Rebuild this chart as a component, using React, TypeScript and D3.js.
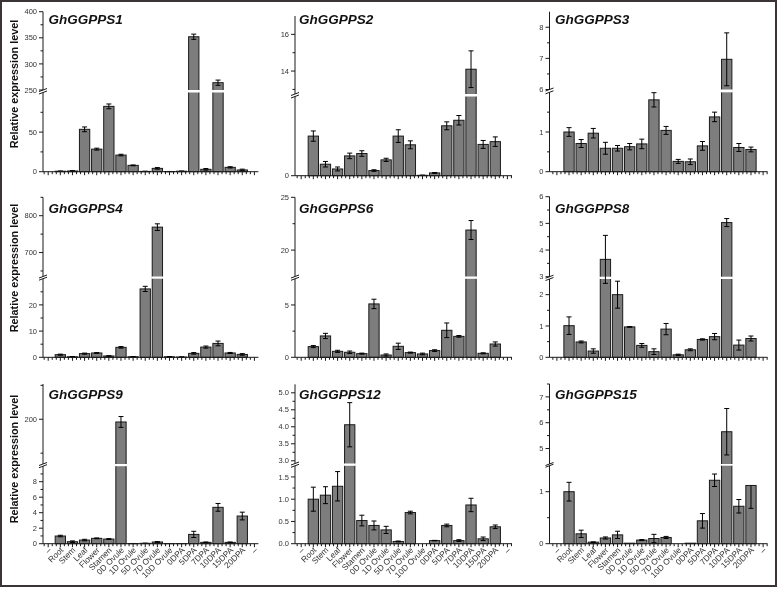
import React from 'react';
import * as d3 from 'd3';

// ---------- data ----------
const categories = ['Root', 'Stem', 'Leaf', 'Flower', 'Stamen', '0D Ovule', '1D Ovule', '5D Ovule', '7D Ovule', '10D Ovule', '0DPA', '5DPA', '7DPA', '10DPA', '15DPA', '20DPA'];
const xLabels = ['–', ...categories, '–'];

const gg1Values = [0.6, 0.9, 53.5, 28.5, 82.5, 21, 8, 0.4, 4.2, 0.2, 0.6, 352, 3, 264, 5.5, 2.2];
const gg1Errors = [0.3, 0.4, 3, 1.2, 3, 1, 0.5, 0.2, 1, 0.1, 0.3, 5, 1, 5, 0.8, 1];
const gg2Values = [1.0, 0.29, 0.17, 0.5, 0.56, 0.13, 0.4, 1.0, 0.78, 0.01, 0.07, 1.26, 1.4, 14.1, 0.79, 0.86];
const gg2Errors = [0.13, 0.07, 0.05, 0.07, 0.07, 0.02, 0.04, 0.16, 0.1, 0.005, 0.01, 0.1, 0.12, 1.0, 0.1, 0.12];
const gg3Values = [1.0, 0.71, 0.97, 0.59, 0.59, 0.63, 0.7, 1.81, 1.04, 0.26, 0.25, 0.65, 1.38, 6.97, 0.61, 0.56];
const gg3Errors = [0.11, 0.1, 0.12, 0.15, 0.07, 0.08, 0.12, 0.18, 0.1, 0.05, 0.07, 0.11, 0.12, 0.85, 0.1, 0.06];
const gg4Values = [1.0, 0.2, 1.4, 1.65, 0.5, 3.8, 0.2, 26.1, 769, 0.2, 0.1, 1.5, 3.9, 5.3, 1.65, 1.1];
const gg4Errors = [0.2, 0.1, 0.2, 0.15, 0.1, 0.3, 0.1, 1.0, 9, 0.1, 0.05, 0.3, 0.4, 0.9, 0.2, 0.3];
const gg6Values = [1.02, 2.04, 0.57, 0.48, 0.35, 5.1, 0.22, 1.05, 0.45, 0.32, 0.64, 2.58, 2.0, 21.9, 0.38, 1.27];
const gg6Errors = [0.1, 0.25, 0.1, 0.12, 0.05, 0.45, 0.1, 0.3, 0.05, 0.08, 0.08, 0.7, 0.08, 0.9, 0.05, 0.2];
const gg8Values = [1.01, 0.49, 0.2, 3.65, 2.0, 0.97, 0.38, 0.18, 0.9, 0.08, 0.24, 0.57, 0.66, 5.03, 0.39, 0.6];
const gg8Errors = [0.28, 0.03, 0.07, 0.9, 0.43, 0.01, 0.06, 0.09, 0.18, 0.02, 0.03, 0.02, 0.1, 0.15, 0.16, 0.08];
const gg9Values = [0.99, 0.26, 0.47, 0.69, 0.6, 196, 0.02, 0.05, 0.22, 0.01, 0.01, 1.2, 0.17, 4.69, 0.17, 3.57];
const gg9Errors = [0.1, 0.1, 0.1, 0.05, 0.05, 8, 0.01, 0.02, 0.05, 0, 0, 0.4, 0.05, 0.5, 0.05, 0.5];
const gg12Values = [1.0, 1.09, 1.29, 4.06, 0.52, 0.41, 0.31, 0.05, 0.7, 0.0, 0.07, 0.41, 0.07, 0.87, 0.11, 0.38];
const gg12Errors = [0.27, 0.19, 0.33, 0.65, 0.12, 0.1, 0.08, 0.01, 0.03, 0, 0.005, 0.03, 0.02, 0.15, 0.04, 0.04];
const gg15Values = [1.0, 0.19, 0.03, 0.11, 0.17, 0.01, 0.07, 0.1, 0.12, 0.0, 0.01, 0.44, 1.22, 5.65, 0.72, 1.12];
const gg15Errors = [0.18, 0.07, 0.005, 0.02, 0.07, 0, 0.01, 0.08, 0.02, 0, 0, 0.14, 0.12, 0.9, 0.13, 0.44];
// error bars drawn only downward (whisker hidden above the bar)
const gg15DownOnly = [15];

// tick values (lower segment / upper segment of each broken axis)
const gg1Ticks = { lo: [0, 50], loMinor: [25, 75], up: [250, 300, 350, 400], upMinor: [275, 325, 375] };
const gg2Ticks = { lo: [0], loMinor: [], up: [14, 16], upMinor: [13, 15] };
const gg3Ticks = { lo: [0, 1], loMinor: [0.5, 1.5], up: [6, 7, 8], upMinor: [6.5, 7.5] };
const gg4Ticks = { lo: [0, 10, 20], loMinor: [5, 15, 25], up: [700, 800], upMinor: [650, 750, 850] };
const gg6Ticks = { lo: [0, 5], loMinor: [2.5], up: [20, 25], upMinor: [22.5] };
const gg8Ticks = { lo: [0, 1, 2], loMinor: [0.5, 1.5], up: [3, 4, 5, 6], upMinor: [3.5, 4.5, 5.5] };
const gg9Ticks = { lo: [0, 2, 4, 6, 8], loMinor: [1, 3, 5, 7, 9], up: [200], upMinor: [150, 250] };
const gg12Ticks = { lo: [0, 0.5, 1.0, 1.5], loMinor: [0.25, 0.75, 1.25], up: [3.0, 3.5, 4.0, 4.5, 5.0], upMinor: [3.25, 3.75, 4.25, 4.75] };
const gg15Ticks = { lo: [0, 1], loMinor: [0.5], up: [5, 6, 7], upMinor: [5.5, 6.5, 7.5] };

// ---------- layout ----------
const FONT = "'Liberation Sans', Arial, Helvetica, sans-serif";
const SP = 12.13;
const COLS = [
  { axisX: 43, first: 48.2, end: 258.4, titleX: 48.5 },
  { axisX: 295, first: 301.2, end: 512, titleX: 299 },
  { axisX: 549.5, first: 556.9, end: 767.5, titleX: 555 },
];
const TITLE_Y = [23.5, 212.5, 399.3];
const YLABEL_Y = [84, 268, 459];

type Seg = { domain: [number, number]; range: [number, number] };
type Cfg = {
  name: string; values: number[]; errors: number[]; ticks: any; col: number; row: number;
  base: number; lower: Seg; upper: Seg; fmt?: (v: number) => string; downOnly?: number[];
};

const panels: Cfg[] = [
  { name: 'GhGGPPS1', values: gg1Values, errors: gg1Errors, ticks: gg1Ticks, col: 0, row: 0, base: 171.7,
    lower: { domain: [0, 100], range: [171.7, 92.5] }, upper: { domain: [250, 400], range: [90, 11.7] } },
  { name: 'GhGGPPS2', values: gg2Values, errors: gg2Errors, ticks: gg2Ticks, col: 1, row: 0, base: 175.7,
    lower: { domain: [0, 2], range: [175.7, 96.5] }, upper: { domain: [12.75, 17], range: [94, 16] } },
  { name: 'GhGGPPS3', values: gg3Values, errors: gg3Errors, ticks: gg3Ticks, col: 2, row: 0, base: 171.7,
    lower: { domain: [0, 2], range: [171.7, 92.3] }, upper: { domain: [6, 8.5], range: [89.5, 11.7] } },
  { name: 'GhGGPPS4', values: gg4Values, errors: gg4Errors, ticks: gg4Ticks, col: 0, row: 1, base: 357.3,
    lower: { domain: [0, 30], range: [357.3, 278.7] }, upper: { domain: [635, 850], range: [276.5, 197.3] } },
  { name: 'GhGGPPS6', values: gg6Values, errors: gg6Errors, ticks: gg6Ticks, col: 1, row: 1, base: 357.3,
    lower: { domain: [0, 7.5], range: [357.3, 278.8] }, upper: { domain: [17.5, 25], range: [276.5, 197.3] } },
  { name: 'GhGGPPS8', values: gg8Values, errors: gg8Errors, ticks: gg8Ticks, col: 2, row: 1, base: 357.3,
    lower: { domain: [0, 2.5], range: [357.3, 279] }, upper: { domain: [3, 6], range: [276.7, 196.7] } },
  { name: 'GhGGPPS9', values: gg9Values, errors: gg9Errors, ticks: gg9Ticks, col: 0, row: 2, base: 543.7,
    lower: { domain: [0, 10], range: [543.7, 466.2] }, upper: { domain: [134, 252], range: [464, 384] } },
  { name: 'GhGGPPS12', values: gg12Values, errors: gg12Errors, ticks: gg12Ticks, col: 1, row: 2, base: 543.7,
    lower: { domain: [0, 1.75], range: [543.7, 465.8] }, upper: { domain: [2.92, 5.25], range: [463.5, 384.3] },
    fmt: (v) => v.toFixed(1) },
  { name: 'GhGGPPS15', values: gg15Values, errors: gg15Errors, ticks: gg15Ticks, col: 2, row: 2, base: 543.7,
    lower: { domain: [0, 1.5], range: [543.7, 465.7] }, upper: { domain: [4.4, 7.5], range: [464, 384] },
    downOnly: gg15DownOnly },
];

function Panel({ cfg }: { cfg: Cfg }) {
  const col = COLS[cfg.col];
  const idx = d3.range(xLabels.length);
  const x = d3.scalePoint<number>().domain(idx).range([col.first, col.first + (xLabels.length - 1) * SP]);
  const lo = d3.scaleLinear().domain(cfg.lower.domain).range(cfg.lower.range);
  const up = d3.scaleLinear().domain(cfg.upper.domain).range(cfg.upper.range);
  const loMax = cfg.lower.domain[1];
  const y = (v: number) => (v <= loMax ? lo(v) : up(v));
  const bw = SP * 0.85;
  const ax = col.axisX;
  const base = cfg.base;
  const loTop = cfg.lower.range[1];
  const upBot = cfg.upper.range[0];
  const top = cfg.upper.range[1];
  const fmt = cfg.fmt || ((v: number) => String(v));
  const downOnly = cfg.downOnly || [];
  const xTicks = d3.range(-1, (xLabels.length - 1) * 3 + 2).map((k) => ({
    px: col.first + (k * SP) / 3,
    major: k % 3 === 0,
  })).filter((t) => t.px >= ax && t.px <= col.end);
  const stroke = '#1a1a1a';

  return (
    <g>
      {cfg.values.map((v, i) => {
        const cx = x(i + 1)!;
        const yt = y(v);
        return (
          <rect key={'b' + i} x={cx - bw / 2} y={yt} width={bw} height={Math.max(0, base - yt)}
            fill="#7d7d7d" stroke={stroke} strokeWidth={1} />
        );
      })}
      {cfg.values.map((v, i) => v > loMax ? (
        <rect key={'g' + i} x={x(i + 1)! - bw / 2 - 1} y={upBot} width={bw + 2} height={loTop - upBot} fill="#fff" />
      ) : null)}
      {cfg.values.map((v, i) => {
        const e = cfg.errors[i];
        if (!e) return null;
        const cx = x(i + 1)!;
        const down = downOnly.includes(i);
        const y1 = down ? y(v) : y(v + e);
        const y0 = y(Math.max(0, v - e));
        return (
          <g key={'e' + i} stroke="#000" strokeWidth={1}>
            <line x1={cx} x2={cx} y1={y1} y2={y0} />
            {!down && <line x1={cx - 2.5} x2={cx + 2.5} y1={y1} y2={y1} />}
            <line x1={cx - 2.5} x2={cx + 2.5} y1={y0} y2={y0} />
          </g>
        );
      })}
      <g stroke={stroke} strokeWidth={1}>
        <line x1={ax} x2={ax} y1={base} y2={loTop} />
        <line x1={ax} x2={ax} y1={upBot} y2={top} />
        <line x1={ax - 4} x2={ax + 4} y1={loTop + 1.5} y2={loTop - 1.5} />
        <line x1={ax - 4} x2={ax + 4} y1={upBot + 1.5} y2={upBot - 1.5} />
        {cfg.ticks.lo.map((t: number) => <line key={'lt' + t} x1={ax - 4} x2={ax} y1={lo(t)} y2={lo(t)} />)}
        {cfg.ticks.loMinor.map((t: number) => <line key={'lm' + t} x1={ax - 2.5} x2={ax} y1={lo(t)} y2={lo(t)} />)}
        {cfg.ticks.up.map((t: number) => <line key={'ut' + t} x1={ax - 4} x2={ax} y1={up(t)} y2={up(t)} />)}
        {cfg.ticks.upMinor.map((t: number) => <line key={'um' + t} x1={ax - 2.5} x2={ax} y1={up(t)} y2={up(t)} />)}
      </g>
      <g fontFamily={FONT} fontSize={7.5} fill="#333" textAnchor="end">
        {cfg.ticks.lo.map((t: number) => <text key={'ll' + t} x={ax - 6} y={lo(t)} dy="0.35em">{fmt(t)}</text>)}
        {cfg.ticks.up.map((t: number) => <text key={'ul' + t} x={ax - 6} y={up(t)} dy="0.35em">{fmt(t)}</text>)}
      </g>
      <g stroke={stroke} strokeWidth={1}>
        <line x1={ax} x2={col.end} y1={base} y2={base} />
        {xTicks.map((t, k) => <line key={'xt' + k} x1={t.px} x2={t.px} y1={base} y2={base + (t.major ? 3.5 : 2.5)} />)}
      </g>
      {cfg.row === 2 && (
        <g fontFamily={FONT} fontSize={8.3} fill="#333" textAnchor="end">
          {xLabels.map((l, i) => (
            <text key={'xl' + i} transform={`translate(${x(i)! + 3.5},${base + 7}) rotate(-45)`}>{l}</text>
          ))}
        </g>
      )}
      <text x={col.titleX} y={TITLE_Y[cfg.row]} fontFamily={FONT} fontSize={13.5} fontWeight="bold" fontStyle="italic" fill="#111">
        {cfg.name}
      </text>
    </g>
  );
}

export default function App() {
  return (
    <svg width={778} height={589} viewBox="0 0 778 589"
      style={{ position: 'absolute', left: 0, top: 0, background: '#fff', willChange: 'transform' }}>
      <rect x={0} y={0} width={778} height={589} fill="#fff" />
      {panels.map((p) => <Panel key={p.name} cfg={p} />)}
      {YLABEL_Y.map((cy, r) => (
        <text key={'yl' + r} transform={`translate(18,${cy}) rotate(-90)`} textAnchor="middle"
          fontFamily={FONT} fontSize={10.8} fontWeight="bold" fill="#111">Relative expression level</text>
      ))}
      <rect x={1} y={1} width={775} height={585} fill="none" stroke="#3b3434" strokeWidth={2} />
    </svg>
  );
}
